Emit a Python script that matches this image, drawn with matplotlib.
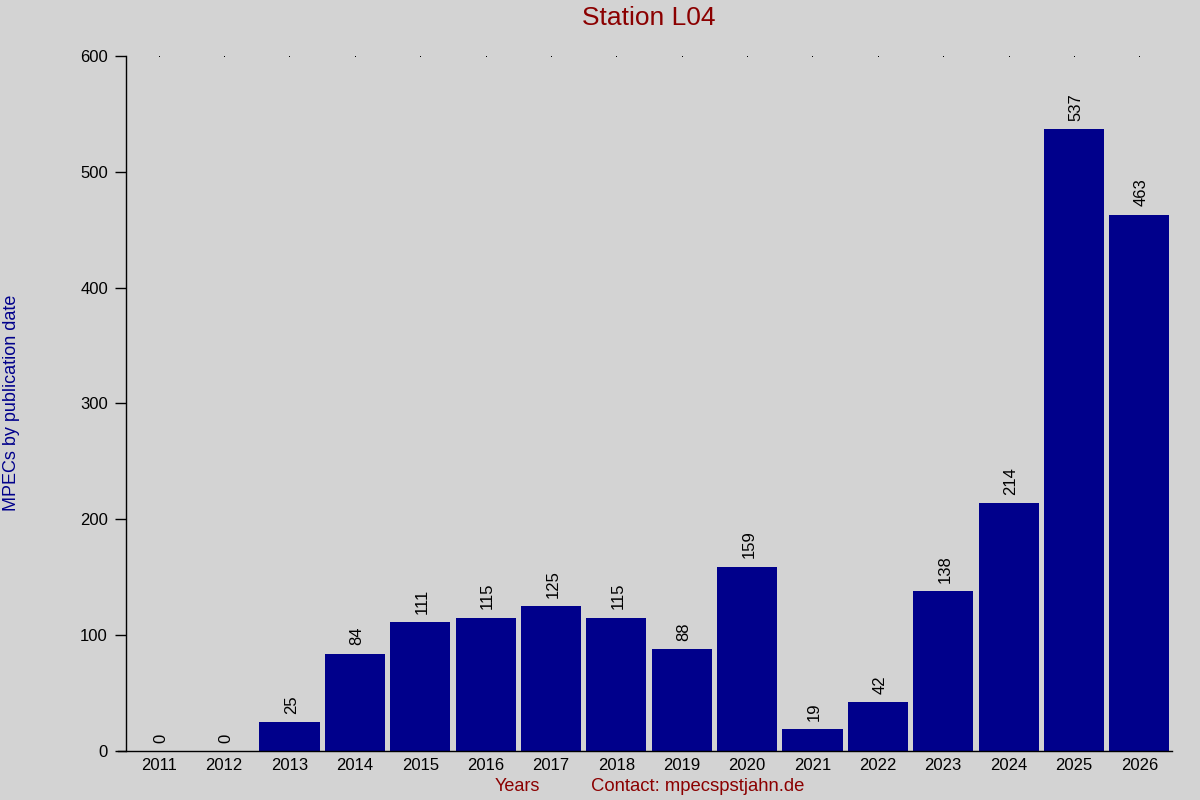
import matplotlib
matplotlib.use("Agg")
import matplotlib.pyplot as plt
import numpy as np

years = ["2011", "2012", "2013", "2014", "2015", "2016", "2017", "2018",
         "2019", "2020", "2021", "2022", "2023", "2024", "2025", "2026"]
counts = [0, 0, 25, 84, 111, 115, 125, 115, 88, 159, 19, 42, 138, 214, 537, 463]
yticks = [0, 100, 200, 300, 400, 500, 600]

plt.rcParams['font.family'] = ['Liberation Sans', 'DejaVu Sans']
bg = '#d3d3d3'
fig = plt.figure(figsize=(12, 8), dpi=100, facecolor=bg)
ax = fig.add_axes([0.105, 0.06125, 0.8717, 0.86875])
ax.set_facecolor(bg)

x = np.arange(len(years))
ax.bar(x, counts, width=0.92, color='#00008b')
for xi, v in zip(x, counts):
    ax.annotate(str(v), (xi, v), xytext=(1.5, 6), textcoords='offset points',
                rotation=90, ha='center', va='bottom', fontsize=12, color='black')

ax.set_xlim(-0.5, len(years) - 0.5)
ax.set_ylim(0, 600)
ax.set_yticks(yticks)
ax.set_yticklabels([str(t) for t in yticks], fontsize=12)
ax.set_xticks(x)
ax.set_xticklabels(years, fontsize=12)
ax.tick_params(axis='x', length=0, pad=5)
ax.tick_params(axis='y', length=8, width=1, direction='out', pad=5)
for s in ['top', 'right']:
    ax.spines[s].set_visible(False)
ax.spines['left'].set_linewidth(1)
ax.spines['bottom'].set_linewidth(1)
ax.spines['bottom'].set_bounds(-0.62, len(years) - 0.5)
ax.plot(x, [600] * len(x), linestyle='none', marker='s', markersize=0.7,
        markeredgewidth=0, color='black', clip_on=False)

fig.text(0.541, 0.977, "Station L04", ha='center', va='center', fontsize=19, color='#8b0000')
fig.text(0.0095, 0.496, "MPECs by publication date", rotation=90, ha='center', va='center', fontsize=13, color='#00008b')
fig.text(0.431, 0.017, "Years", ha='center', va='center', fontsize=13, color='#8b0000')
fig.text(0.581, 0.017, "Contact: mpecspstjahn.de", ha='center', va='center', fontsize=13.3, color='#8b0000')

fig.savefig("out.png", dpi=100, facecolor=bg)
